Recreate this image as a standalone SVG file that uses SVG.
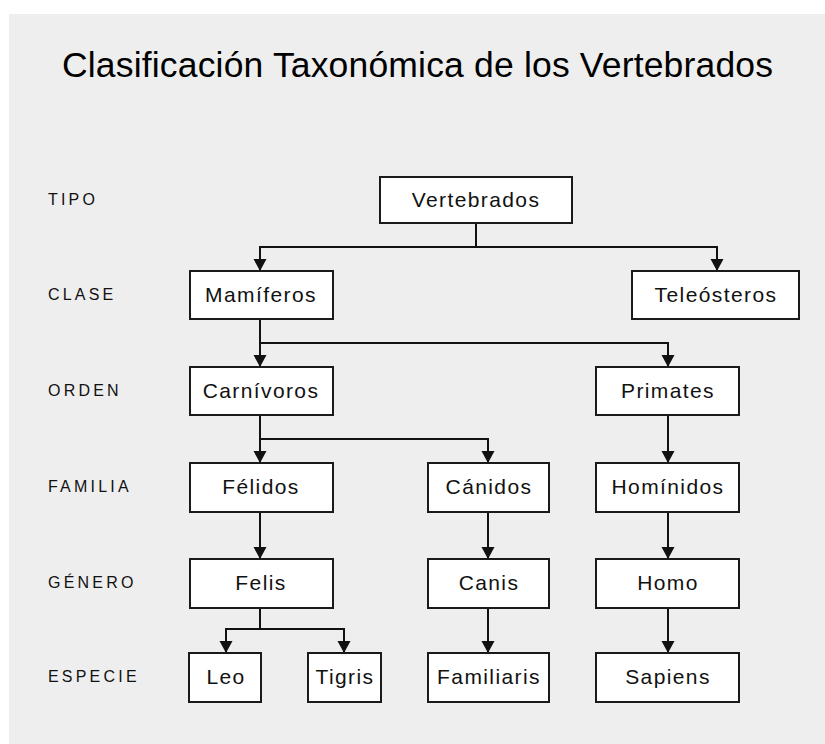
<svg xmlns="http://www.w3.org/2000/svg" width="825" height="744" viewBox="0 0 825 744">
<style>
.bg{fill:#eeeeee}
.box{fill:#ffffff;stroke:#1a1a1a;stroke-width:2}
.nt{font-family:"Liberation Sans",Arial,sans-serif;font-size:21px;letter-spacing:1.4px;fill:#111;text-anchor:middle}
.lv{font-family:"Liberation Sans",Arial,sans-serif;font-size:16px;letter-spacing:3.2px;fill:#111}
.title{font-family:"Liberation Sans",Arial,sans-serif;font-size:35.5px;fill:#000}
.c{fill:none;stroke:#111;stroke-width:2}
</style>
<defs>
<marker id="ah" markerUnits="userSpaceOnUse" markerWidth="14" markerHeight="14" refX="12" refY="0" viewBox="0 -7 13 14" orient="auto">
<path d="M0,-6.5 L12,0 L0,6.5 Z" fill="#111"/>
</marker>
</defs>
<rect width="825" height="744" fill="#ffffff"/>
<rect class="bg" x="9" y="14" width="816" height="730"/>
<text class="title" x="62" y="77" textLength="711" lengthAdjust="spacing">Clasificación Taxonómica de los Vertebrados</text>
<g id="levels">
<text class="lv" x="48" y="205">TIPO</text>
<text class="lv" x="48" y="300">CLASE</text>
<text class="lv" x="48" y="396">ORDEN</text>
<text class="lv" x="48" y="492">FAMILIA</text>
<text class="lv" x="48" y="588">GÉNERO</text>
<text class="lv" x="48" y="682">ESPECIE</text>
</g>
<g id="connectors">
<path class="c" d="M476 223 V247"/>
<path class="c" d="M476 247 H260 V271" marker-end="url(#ah)"/>
<path class="c" d="M476 247 H717 V271" marker-end="url(#ah)"/>
<path class="c" d="M260 319 V367" marker-end="url(#ah)"/>
<path class="c" d="M260 343 H668 V367" marker-end="url(#ah)"/>
<path class="c" d="M260 415 V463" marker-end="url(#ah)"/>
<path class="c" d="M260 439 H488 V463" marker-end="url(#ah)"/>
<path class="c" d="M668 415 V463" marker-end="url(#ah)"/>
<path class="c" d="M260 512 V559" marker-end="url(#ah)"/>
<path class="c" d="M488 512 V559" marker-end="url(#ah)"/>
<path class="c" d="M668 512 V559" marker-end="url(#ah)"/>
<path class="c" d="M260 608 V629 H226 V653" marker-end="url(#ah)"/>
<path class="c" d="M260 629 H344 V653" marker-end="url(#ah)"/>
<path class="c" d="M488 608 V653" marker-end="url(#ah)"/>
<path class="c" d="M668 608 V653" marker-end="url(#ah)"/>
</g>
<g id="vertebrados"><rect class="box" x="380" y="177" width="192" height="46"/><text class="nt" x="476" y="207">Vertebrados</text></g>
<g id="mamiferos"><rect class="box" x="190" y="271" width="143" height="48"/><text class="nt" x="261" y="302">Mamíferos</text></g>
<g id="teleosteros"><rect class="box" x="632" y="271" width="167" height="48"/><text class="nt" x="716" y="302">Teleósteros</text></g>
<g id="carnivoros"><rect class="box" x="190" y="367" width="143" height="48"/><text class="nt" x="261" y="398">Carnívoros</text></g>
<g id="primates"><rect class="box" x="596" y="367" width="143" height="48"/><text class="nt" x="668" y="398">Primates</text></g>
<g id="felidos"><rect class="box" x="190" y="463" width="143" height="49"/><text class="nt" x="261" y="494">Félidos</text></g>
<g id="canidos"><rect class="box" x="428" y="463" width="121" height="49"/><text class="nt" x="489" y="494">Cánidos</text></g>
<g id="hominidos"><rect class="box" x="596" y="463" width="143" height="49"/><text class="nt" x="668" y="494">Homínidos</text></g>
<g id="felis"><rect class="box" x="190" y="559" width="143" height="49"/><text class="nt" x="261" y="590">Felis</text></g>
<g id="canis"><rect class="box" x="428" y="559" width="121" height="49"/><text class="nt" x="489" y="590">Canis</text></g>
<g id="homo"><rect class="box" x="596" y="559" width="143" height="49"/><text class="nt" x="668" y="590">Homo</text></g>
<g id="leo"><rect class="box" x="189" y="653" width="72" height="49"/><text class="nt" x="226" y="684">Leo</text></g>
<g id="tigris"><rect class="box" x="308" y="653" width="73" height="49"/><text class="nt" x="345" y="684">Tigris</text></g>
<g id="familiaris"><rect class="box" x="428" y="653" width="121" height="49"/><text class="nt" x="489" y="684">Familiaris</text></g>
<g id="sapiens"><rect class="box" x="596" y="653" width="143" height="49"/><text class="nt" x="668" y="684">Sapiens</text></g>
</svg>
